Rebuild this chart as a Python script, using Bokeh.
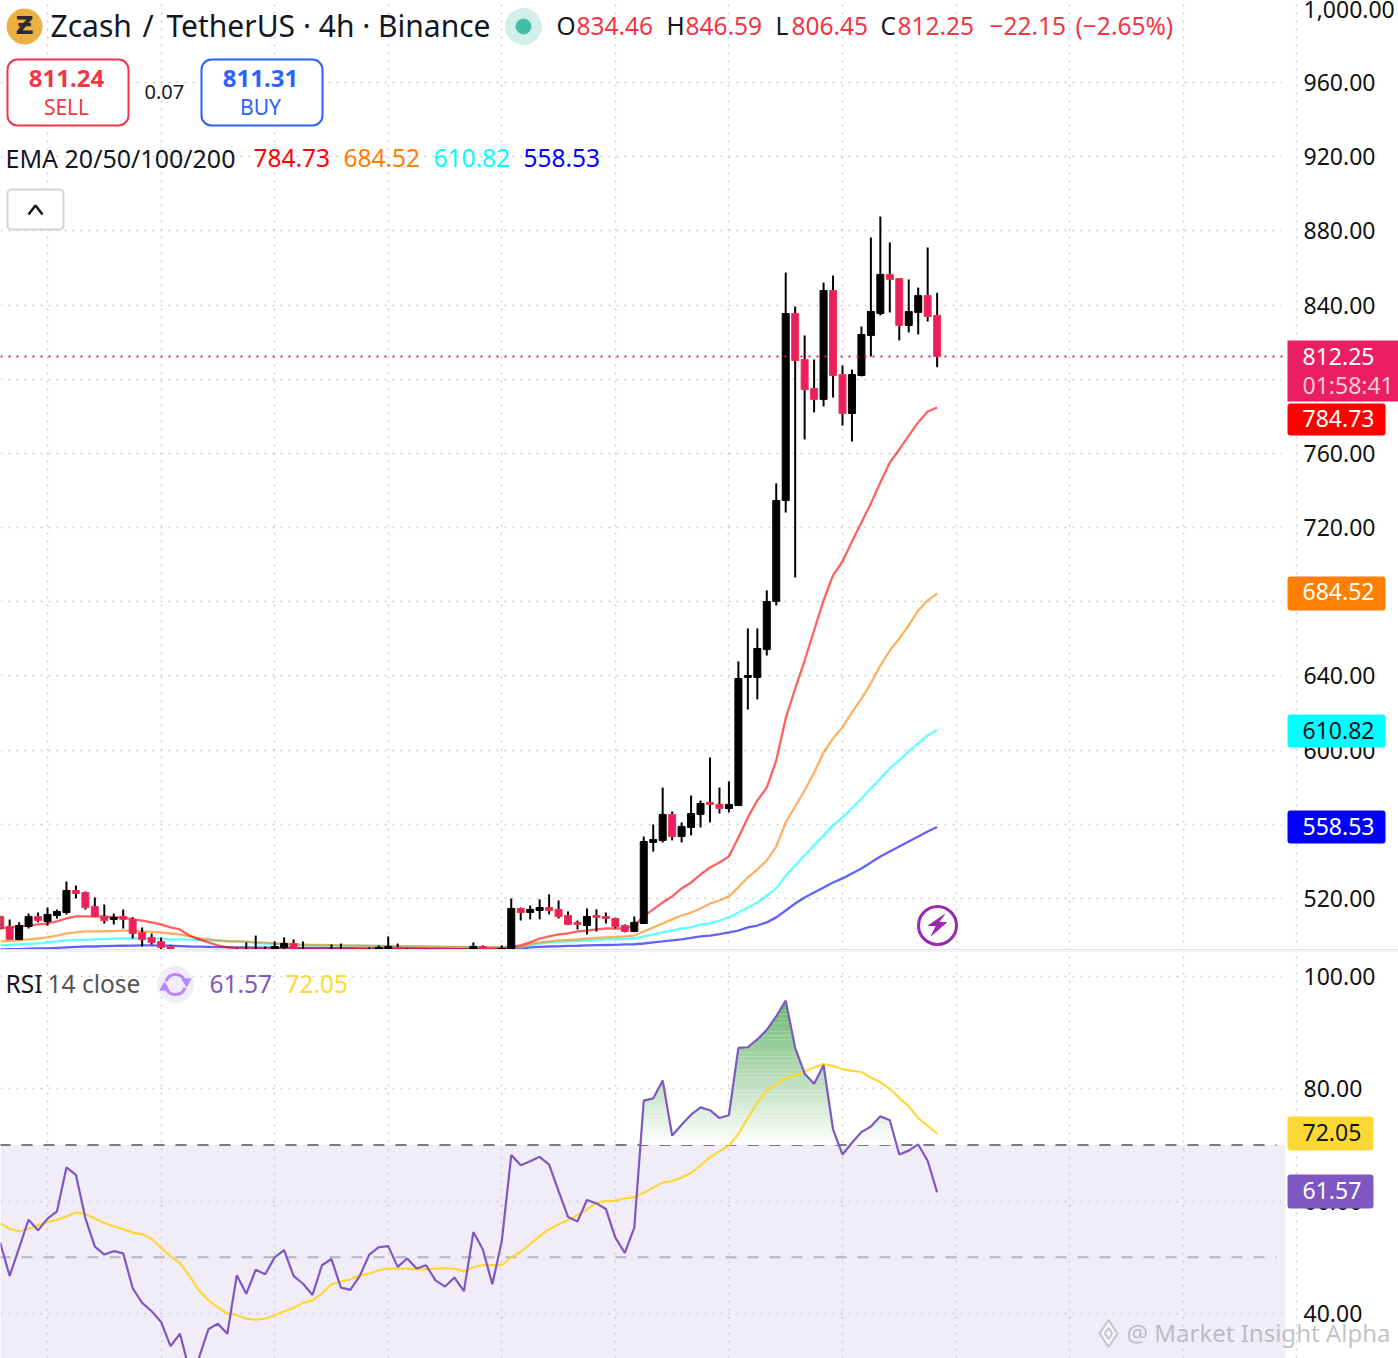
import numpy as np
from bokeh.embed import file_html
from bokeh.resources import INLINE
from bokeh.layouts import column
from bokeh.models import BoxAnnotation, FixedTicker, Grid, Label, LinearAxis, Range1d
from bokeh.plotting import figure

# ---- data -----------------------------------------------------------------
opens = [510.3,504.9,497.9,504.9,510.3,507.6,510.8,512.4,524.3,523.2,515.7,510.3,508.7,510.3,508.7,501.7,499.0,496.8,494.1,490.5,
490,489,488.5,489,490,488,488,489,490,491,493.6,495.7,490,490,490,491,492.5,491.5,491,491,
491.5,493.0,493.6,491.5,491.5,491,491.5,491,491.2,491,491.5,494.1,491,491.5,492,514.6,512.4,513.5,515.1,514.1,
510.8,507.1,505.4,510.8,510.3,509.2,505.4,502.2,506.5,550.2,551.3,565.3,553.4,558.3,565.3,571.8,570.7,568.5,570.1,639.2,
639.2,654.2,680.1,734.6,835.4,810.6,795.0,789.1,847.8,802.5,781.5,802.0,823.6,835.4,856.5,854.3,829.0,836.0,845.1,834.46]
highs = [510.8,508.7,507.1,511.9,512.4,515.1,514.1,529.2,527.0,523.8,520.5,516.8,511.9,514.1,509.8,504.3,501.1,499.0,494.7,491.0,
490.8,490,490,490.5,491,493.0,496.3,500.0,494.1,496.8,499.0,497.9,496.8,492.5,491.5,495.2,495.7,491.9,491.7,493.6,
494.7,499.5,495.7,493.0,492.5,493.0,491.9,491.8,491.9,491.8,496.3,494.7,492.5,494.7,520.0,515.1,516.2,519.5,522.2,518.9,
513.0,508.1,514.6,514.1,512.4,509.6,506.0,510.3,553.4,559.9,579.8,566.9,561.0,575.5,572.8,596.0,579.8,583.1,647.8,665.6,
665.6,686.1,743.8,857.5,839.2,823.6,810.6,852.1,855.9,807.4,805.2,828.4,876.4,887.7,873.7,854.3,853.8,849.4,871.0,846.59]
lows = [503.3,497.9,497.5,503.8,507.1,505.4,509.2,511.4,520.0,514.1,509.8,506.5,506.0,503.8,498.4,494.1,495.2,492.0,489.0,488.0,
487.5,487,487,487.5,488,486,487,487,488,490,492,490,489,489,489,490,490,490,490,490,
490,492.5,490,490,490,490,490,490,490,490,490,490.5,490,490.5,491,508.1,508.7,508.7,511.4,509.2,
505.6,503.3,500.6,502.2,506.5,503.8,501.7,501.8,506.2,545.3,550.2,551.3,550.2,554.0,558.3,561.0,565.8,566.4,569.9,621.9,
627.3,651.0,678.0,728.1,693.1,767.5,782.1,785.3,790.1,775.0,766.4,801.5,812.2,834.4,836.0,820.9,825.2,824.1,831.1,806.45]
closes = [503.8,497.9,505.4,510.3,508.1,511.4,513.0,524.3,522.7,515.1,510.3,508.1,509.8,508.7,501.1,497.9,496.3,493.6,491.0,490.0,
489,488.5,489,490,489.5,490,491,491,491.5,494.1,495.7,491.5,491.5,491,491,492.5,491.5,491,491.2,491.8,
493.6,494.1,491.5,491.8,491,491.5,491,491.2,491,491.3,494.1,491.5,491.5,493.0,514.6,512.4,514.1,515.1,513.5,510.3,
506.0,506.0,510.3,509.8,509.2,504.9,502.2,507.1,550.7,551.8,565.3,553.4,558.8,565.8,571.2,570.7,568.5,570.7,638.6,640.2,
654.8,680.1,734.6,835.4,810.1,794.4,789.1,847.8,802.0,781.5,802.5,824.1,836.5,856.5,853.8,829.0,836.5,845.1,833.8,812.25]
ema20 = [503.8,504.4,504.9,505.4,506.0,506.5,507.6,509.2,510.3,510.3,510.3,510.3,509.8,509.8,508.7,508.1,507.1,506.0,504.4,503.3,
500.0,497.9,496.3,494.7,493.6,493.1,493.0,492.9,492.9,493.0,493.2,493.2,493.2,493.1,493.0,493.0,493.0,492.9,492.8,492.8,
492.9,493.0,493.0,493.0,492.9,492.9,492.8,492.8,492.7,492.7,492.8,492.9,492.9,493.0,494.0,494.7,496.3,498.4,499.5,500.6,
501.1,502.2,502.7,503.3,503.8,503.8,503.8,505.4,510.3,514.1,517.8,521.1,525.4,528.6,532.9,536.7,539.4,542.6,552.9,563.7,
572.8,579.8,594.4,617.1,633.2,648.3,664.5,680.7,694.2,701.7,712.5,722.7,733.0,744.3,755.1,762.1,769.6,776.7,782.6,784.73]
ema50 = [496.8,497.1,497.4,497.9,498.4,499.0,500.0,501.1,501.7,502.2,502.2,502.3,502.4,502.7,502.8,502.3,502.0,501.7,501.1,500.6,
499.5,498.4,497.9,497.4,496.8,496.8,496.7,496.3,496.2,495.7,495.7,495.2,495.1,495.0,494.9,494.8,494.7,494.6,494.5,494.4,
494.4,494.3,494.2,494.2,494.1,494.0,493.9,493.8,493.7,493.7,493.7,493.6,493.6,493.6,493.7,493.8,495.2,496.3,496.8,497.4,
497.6,497.9,498.4,498.7,499.0,499.2,499.5,500.0,502.2,504.4,506.5,508.7,510.8,512.4,514.6,517.3,518.9,521.1,526.0,531.3,
535.6,540.5,548.0,561.0,569.6,578.2,587.9,598.7,606.3,612.2,620.3,627.8,636.0,645.6,653.7,660.2,667.2,675.3,680.7,684.52]
ema100 = [494.7,494.9,495.2,495.5,495.7,496.3,496.8,497.4,497.6,497.7,497.9,498.1,498.3,498.4,498.4,498.4,498.4,498.2,497.9,497.9,
497.8,497.6,497.4,497.2,497.0,496.8,496.5,496.2,495.7,495.5,495.2,495.1,494.9,494.8,494.7,494.7,494.6,494.6,494.5,494.5,
494.4,494.4,494.3,494.3,494.2,494.2,494.1,494.0,494.0,493.9,493.9,493.8,493.8,493.7,493.7,493.8,494.7,495.7,496.3,496.5,
496.8,497.1,497.4,497.6,497.9,498.0,498.2,498.4,499.5,500.6,501.7,502.7,503.8,504.4,506.0,506.5,508.1,509.8,512.4,515.1,
517.8,521.6,525.4,532.4,537.8,543.2,548.6,554.0,559.4,563.7,568.5,573.9,579.3,584.7,590.1,594.4,599.3,603.6,607.9,610.82]
ema200 = [492.5,492.6,492.7,492.9,493.0,493.0,493.3,493.6,493.9,494.1,494.1,494.3,494.4,494.5,494.6,494.7,494.7,494.6,494.5,494.3,
494.1,494.0,493.9,493.8,493.7,493.6,493.6,493.5,493.5,493.5,493.5,493.4,493.4,493.3,493.3,493.2,493.2,493.2,493.1,493.1,
493.1,493.0,493.0,493.0,493.0,492.9,492.9,492.9,492.9,492.8,492.8,492.8,492.8,492.8,492.9,493.0,493.6,493.9,494.1,494.2,
494.4,494.5,494.7,494.8,494.9,495.0,495.2,495.3,495.7,496.3,496.8,497.4,497.9,498.7,499.5,500.0,500.8,501.7,502.7,504.4,
505.4,507.1,509.8,513.5,517.3,520.5,523.2,525.9,528.6,530.8,533.5,536.2,539.4,542.6,545.3,548.0,550.7,553.4,556.1,558.53]
rsi = [52.6,46.7,51.7,56.7,54.8,56.9,58.2,66.0,64.7,57.0,51.9,50.5,51.1,50.7,44.5,41.9,40.4,38.5,34.2,36.4,
29.8,32.1,37.2,38.2,36.4,46.8,43.5,47.8,47.0,50.0,51.3,46.7,45.3,43.3,48.6,49.7,44.6,44.2,46.7,50.5,
51.8,52.0,48.3,49.8,48.0,48.6,45.9,44.8,46.4,44.0,54.5,51.4,45.2,52.9,68.2,66.4,67.1,67.9,66.5,61.8,
57.2,56.4,60.2,59.6,58.6,53.5,50.8,55.3,77.9,78.3,81.5,71.7,73.6,75.4,76.7,76.2,74.8,75.3,87.3,87.4,
88.8,90.5,92.9,95.7,87.3,82.7,80.9,84.2,72.8,68.3,70.4,72.3,73.3,75.1,74.4,68.3,69.0,70.1,67.2,61.57]
rsi_ma = [56.1,55.1,54.6,55.1,55.7,56.3,56.7,57.3,58.0,57.7,56.9,56.1,55.5,55.0,54.4,54.1,53.3,51.7,50.2,49.0,
46.7,44.1,42.4,41.1,40.0,39.7,39.1,38.9,39.1,39.7,40.4,41.0,41.9,42.3,43.6,45.2,45.7,46.1,46.8,47.1,
47.7,48.0,48.0,48.0,47.8,47.9,48.0,48.1,48.0,47.5,48.3,48.6,48.6,48.6,50.0,51.0,52.3,53.8,55.0,55.9,
56.6,57.5,58.5,59.7,60.0,60.1,60.5,60.7,61.5,62.4,63.3,63.6,64.2,65.0,66.4,67.8,68.9,69.9,72.0,74.8,
77.5,79.7,80.8,81.9,82.4,83.1,83.8,84.4,84.1,83.5,83.2,83.0,82.0,81.2,80.0,78.4,76.9,74.8,73.4,72.05]
price_ticks = [1000, 960, 920, 880, 840, 800, 760, 720, 680, 640, 600, 560, 520]
rsi_ticks = [100, 80, 60, 40]
time_ticks = [5, 17, 29, 41, 53, 65, 77, 89, 101, 113, 125, 137]
rsi_levels = [70, 50]

# ---- pixel <-> data helpers ----
BAR_PX = 9.464
FONT = "Noto Sans"
def fx(px): return (px + 0.3) / BAR_PX
def fp(py): return 1004.2 - py / 1.8545
def fr(py): return 100 - (py - 976) / 5.617

W = 1398
FRAME_R = 1285
TOP_H = 950
BOT_H = 408

def make_fig(h, y_range, axis_ticks, grid_ticks, labels):
    p = figure(width=W, height=h, output_backend="svg", toolbar_location=None,
               x_range=Range1d(fx(0), fx(W)), y_range=y_range,
               x_axis_location=None, y_axis_location=None, tools="",
               min_border=0, min_border_right=0, min_border_left=0, min_border_top=0, min_border_bottom=0,
               background_fill_color="#ffffff", border_fill_color="#ffffff", outline_line_color=None)
    for g in p.grid:
        g.visible = False
    ax = LinearAxis(fixed_location=fx(FRAME_R), ticker=FixedTicker(ticks=axis_ticks),
                    major_label_overrides=labels, axis_line_color=None, major_tick_line_color=None,
                    minor_tick_line_color=None, major_tick_out=0, major_tick_in=0, major_label_standoff=18,
                    major_label_text_font=FONT, major_label_text_font_size="23px", major_label_text_color="#111111")
    p.add_layout(ax, "right")
    common = dict(grid_line_color="#cdcdcd", grid_line_dash="2 6", grid_line_width=1.5, level="underlay")
    p.add_layout(Grid(dimension=0, ticker=FixedTicker(ticks=time_ticks), **common))
    p.add_layout(Grid(dimension=1, ticker=FixedTicker(ticks=grid_ticks), cross_bounds=(fx(0), fx(1281)), **common))
    return p

def text(p, yf, px, py, s, color="#131722", size=24.5, style="normal", align="left", font=FONT, alpha=1.0):
    p.add_layout(Label(x=fx(px - 1), y=yf(py - 1), text=s, text_color=color, text_font=font,
                       text_font_size=f"{size}px", text_font_style=style, text_align=align,
                       text_baseline="middle", text_alpha=alpha, level="overlay"))

def box(p, yf, x0, x1, y0, y1, fill, line=None, lw=0, radius=3, alpha=1.0):
    p.add_layout(BoxAnnotation(left=fx(x0), right=fx(x1), top=yf(y0), bottom=yf(y1),
                               fill_color=fill, fill_alpha=alpha, line_color=line, line_width=lw,
                               line_alpha=1.0 if line else 0.0, border_radius=radius, level="annotation"))

idx = np.arange(len(closes))
o, h, l, c = map(np.array, (opens, highs, lows, closes))
up = c >= o

# ---- price pane ------------------------------------------------------------
labels = {t: f"{t:,.2f}" for t in price_ticks}
top = make_fig(TOP_H, Range1d(fp(TOP_H), fp(0)), price_ticks, price_ticks[1:], labels)

for series, col in ((ema200, "#0000ff"), (ema100, "#00ffff"), (ema50, "#ff7f00"), (ema20, "#ff0000")):
    top.line(idx, series, line_color=col, line_width=2.3, line_alpha=0.62)
top.segment(idx, l, idx, h, line_color="#000000", line_width=2)
bw = 7 / BAR_PX
top.vbar(idx[up], bw, o[up], c[up], fill_color="#000000", line_color="#000000", line_width=1)
top.vbar(idx[~up], bw, o[~up], c[~up], fill_color="#e91e63", line_color="#f23645", line_width=1)

top.segment([fx(0)], [closes[-1]], [fx(1287)], [closes[-1]], line_color="#ec1c5c", line_dash="2 6", line_width=2)

# separator
box(top, fp, 0, W, 948.5, 950, "#e0e3eb", radius=0)

# header
top.scatter([fx(24)], [fp(26)], size=35, color="#ecb040")
text(top, fp, 25, 26, "Ƶ", color="#2c2c2c", size=25, style="bold", align="center", font="DejaVu Sans")
text(top, fp, 51, 26, "Zcash", size=30)
text(top, fp, 143, 26, "/", size=30)
text(top, fp, 167, 26, "TetherUS · 4h · Binance", size=30)
top.scatter([fx(523)], [fp(26)], size=36, color="#d3efe9")
top.scatter([fx(523)], [fp(26)], size=15, color="#43bea6")
RED = "#f23645"
for lx, lb, vx, val in ((557, "O", 577, "834.46"), (667, "H", 686, "846.59"),
                        (776, "L", 792, "806.45"), (881, "C", 898, "812.25")):
    text(top, fp, lx, 26, lb)
    text(top, fp, vx, 26, val, color=RED)
text(top, fp, 990, 26, "−22.15", color=RED)
text(top, fp, 1076, 26, "(−2.65%)", color=RED)

box(top, fp, 7, 128, 59, 125, "#ffffff", line=RED, lw=2, radius=10)
text(top, fp, 67, 79, "811.24", color=RED, size=24, style="bold", align="center")
text(top, fp, 67, 107, "SELL", color=RED, size=21, align="center")
text(top, fp, 145, 92, "0.07", size=20)
box(top, fp, 201, 322, 59, 125, "#ffffff", line="#2962ff", lw=2, radius=10)
text(top, fp, 261, 79, "811.31", color="#2962ff", size=24, style="bold", align="center")
text(top, fp, 261, 107, "BUY", color="#2962ff", size=21, align="center")

text(top, fp, 6, 158, "EMA 20/50/100/200", size=25)
for vx, val, col in ((254, "784.73", "#ff0000"), (344, "684.52", "#ff7f00"),
                     (434, "610.82", "#00ffff"), (524, "558.53", "#0000ff")):
    text(top, fp, vx, 158, val, color=col)

box(top, fp, 7, 63, 189, 229, "#ffffff", line="#d1d4dc", lw=2, radius=4)
top.line([fx(28), fx(35), fx(42)], [fp(214), fp(205), fp(214)], line_color="#131722", line_width=2.5, level="overlay")

# lightning badge
top.scatter([fx(937)], [fp(925)], size=38, fill_color=None, line_color="#9c27b0", line_width=3)
top.patch([fx(v) for v in (944, 928, 936, 931, 946, 938)],
          [fp(v) for v in (914, 925, 925, 935, 922, 922)], color="#9c27b0")

# value tags on the scale
box(top, fp, 1287, W, 340, 401, "#e91e63", radius=0)
text(top, fp, 1303, 357, "812.25", color="#ffffff", size=23)
text(top, fp, 1303, 385, "01:58:41", color="#f8c9d8", size=23)
for val, col, tc, y0, y1 in (("784.73", "#ff0000", "#ffffff", 403, 435), ("684.52", "#ff7f00", "#ffffff", 576, 610),
                             ("610.82", "#00ffff", "#131722", 714, 747), ("558.53", "#0000ff", "#ffffff", 810, 843)):
    box(top, fp, 1287, 1385, y0, y1, col)
    text(top, fp, 1303, 592 if y0 == 576 else (y0 + y1) / 2, val, color=tc, size=23)

# ---- RSI pane --------------------------------------------------------------
labels = {t: f"{t:.2f}" for t in rsi_ticks}
bot = make_fig(BOT_H, Range1d(fr(1358), fr(950)), rsi_ticks, rsi_ticks, labels)
bot.add_layout(BoxAnnotation(top=rsi_levels[0], right=fx(FRAME_R), fill_color="#7e57c2", fill_alpha=0.115,
                             line_alpha=0, level="image"))
box(bot, fr, 0, W, 950, 951, "#e0e3eb", radius=0)
for lev, a in zip(rsi_levels, (1.0, 0.5)):
    bot.segment([fx(-1)], [lev], [fx(1276)], [lev], line_color="#787b86", line_alpha=a, line_dash="11 11",
                line_width=2, level="underlay")

# gradient fill above 70
xf = np.linspace(0, 99, 1981)
rf = np.interp(xf, idx, rsi)
for lo in np.arange(70, 96, 0.75):
    hi = lo + 0.75
    t = (lo + 0.375 - 70) / 26
    col = "#%02x%02x%02x" % (int(255 - 149 * t), int(255 - 72 * t), int(255 - 145 * t))
    bot.varea(xf, np.full_like(xf, lo), np.clip(rf, lo, hi), fill_color=col)

bot.line(idx, rsi_ma, line_color="#fdd835", line_width=2.2)
bot.line(idx, rsi, line_color="#7e57c2", line_width=2.2)

text(bot, fr, 6, 984, "RSI", size=24.5)
text(bot, fr, 48, 984, "14 close", color="#555555", size=24.5)
bot.scatter([fx(175)], [fr(984)], size=36, color="#f0ecfa")
for a0, a1 in ((0.35, 2.8), (3.5, 5.95)):
    bot.arc([fx(175)], [fr(984)], radius=10, radius_units="screen", start_angle=a0, end_angle=a1,
            line_color="#b388ff", line_width=3)
bot.scatter([fx(186), fx(164)], [fr(981), fr(987)], size=9, marker="triangle", color="#b388ff", angle=[3.14159, 0])
text(bot, fr, 210, 984, "61.57", color="#7e57c2")
text(bot, fr, 286, 984, "72.05", color="#fdd835")

box(bot, fr, 1287, 1373, 1116, 1150, "#fdd835")
text(bot, fr, 1303, 1133, "72.05", color="#131722", size=23)
box(bot, fr, 1287, 1373, 1174, 1208, "#7e57c2")
text(bot, fr, 1303, 1191, "61.57", color="#ffffff", size=23)

# watermark
bot.scatter([fx(1108)], [fr(1333)], size=27, marker="diamond", fill_color="#ffffff", fill_alpha=0.5, line_color="#c4c4c4", line_width=2, level="overlay")
bot.scatter([fx(1108)], [fr(1333)], size=11, marker="diamond", fill_color=None, line_color="#c4c4c4", line_width=2, level="overlay")
text(bot, fr, 1127, 1333, "@ Market Insight Alpha", color="#9a9a9a", size=24, alpha=0.6)

page = column(top, bot, spacing=0)
open("out.html", "w").write(file_html(page, INLINE))
